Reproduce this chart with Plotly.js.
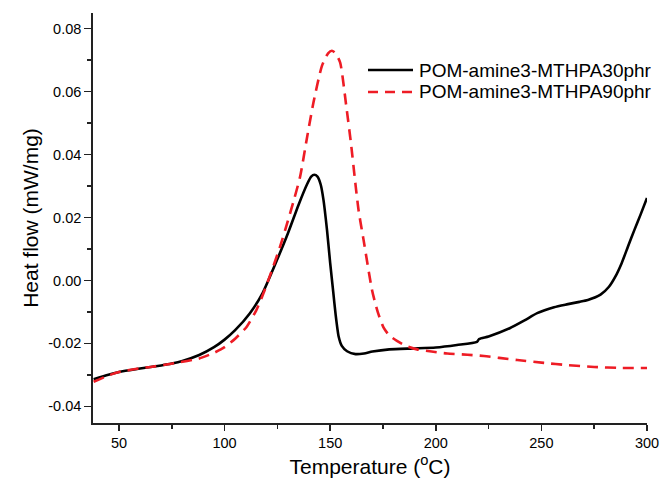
<!DOCTYPE html>
<html>
<head>
<meta charset="utf-8">
<script src="https://cdn.plot.ly/plotly-3.0.1.min.js"></script>
<style>html,body{margin:0;padding:0;background:#fff;}#chart{width:662px;height:488px;}</style>
</head>
<body>
<div id="chart"></div>
<script>
// Series names
var seriesNames = ["POM-amine3-MTHPA30phr", "POM-amine3-MTHPA90phr"];

// POM-amine3-MTHPA30phr (black solid)
var temp30 = [38, 45, 50, 60, 70, 75, 80, 88, 95, 100, 105, 112, 118, 125, 130, 135, 139, 141, 142.5, 144, 145.5, 146.8, 148.5, 150, 151.5, 152.5, 154, 155.5, 158, 162, 166, 170, 178, 190, 200, 210, 219.5, 220.5, 225, 235, 242, 248, 256, 262, 268, 272, 278, 282, 285, 288, 291, 294, 297, 300];
var heat30 = [-0.0314, -0.0300, -0.0291, -0.0280, -0.0270, -0.0264, -0.0256, -0.0237, -0.0212, -0.0188, -0.0158, -0.0104, -0.0040, 0.0068, 0.0150, 0.0240, 0.0305, 0.0330, 0.0336, 0.0330, 0.0305, 0.0257, 0.0160, 0.0055, -0.0040, -0.0104, -0.0178, -0.0208, -0.0225, -0.0234, -0.0232, -0.0226, -0.0219, -0.0216, -0.0213, -0.0205, -0.0195, -0.0186, -0.0178, -0.0152, -0.0127, -0.0104, -0.0085, -0.0076, -0.0068, -0.0062, -0.0045, -0.0020, 0.0012, 0.0055, 0.0108, 0.0160, 0.0210, 0.0262];

// POM-amine3-MTHPA90phr (red dashed)
var temp90 = [38, 45, 50, 60, 65, 77, 88, 95, 100, 105, 110.5, 115, 118.4, 122, 126.3, 130, 133, 135.8, 138.9, 142.1, 146.1, 149, 150.8, 152.5, 154.7, 157.6, 159.8, 161.9, 163.5, 165.8, 169.8, 172.5, 175.3, 178, 181.6, 186, 191.1, 198, 205.4, 215, 222.8, 230, 238.6, 251.2, 262.3, 275, 287.6, 300];
var heat90 = [-0.0322, -0.0302, -0.0291, -0.0279, -0.0275, -0.0262, -0.0248, -0.0230, -0.0212, -0.0185, -0.0147, -0.0095, -0.0041, 0.0025, 0.0108, 0.0190, 0.0260, 0.0331, 0.0449, 0.0566, 0.0682, 0.0722, 0.0730, 0.0722, 0.0693, 0.0555, 0.0438, 0.0310, 0.0220, 0.0129, -0.0030, -0.0100, -0.0150, -0.0175, -0.0192, -0.0208, -0.0219, -0.0226, -0.0232, -0.0236, -0.0240, -0.0246, -0.0253, -0.0262, -0.0269, -0.0275, -0.0278, -0.0278];

// Axis ticks
var xTickVals = [50, 100, 150, 200, 250, 300];
var xTickText = ["50", "100", "150", "200", "250", "300"];
var yTickVals = [-0.04, -0.02, 0.00, 0.02, 0.04, 0.06, 0.08];
var yTickText = ["-0.04", "-0.02", "0.00", "0.02", "0.04", "0.06", "0.08"];

var FONT = "Arial, 'Liberation Sans', sans-serif";
var W = 662, H = 488, ML = 93, MR = 15, MT = 13, MB = 65;
function px2x(px) { return (px - ML) / (W - ML - MR); }
function py2y(py) { return (H - MB - py) / (H - MT - MB); }

var traces = [
  {x: temp30, y: heat30, type: "scatter", mode: "lines", name: seriesNames[0],
   line: {color: "#000000", width: 2.6, shape: "spline", smoothing: 0.6}, showlegend: false},
  {x: temp90, y: heat90, type: "scatter", mode: "lines", name: seriesNames[1],
   line: {color: "#ee1c25", width: 2.6, dash: "11px,7px", shape: "spline", smoothing: 0.6}, showlegend: false}
];

var legendRows = [
  {py: 70, color: "#000000", dash: "solid"},
  {py: 92, color: "#ee1c25", dash: "10px,7px"}
];
var shapes = [], annotations = [];
legendRows.forEach(function (r, i) {
  shapes.push({type: "line", xref: "paper", yref: "paper",
    x0: px2x(368), x1: px2x(413), y0: py2y(r.py), y1: py2y(r.py),
    line: {color: r.color, width: 2.6, dash: r.dash}});
  annotations.push({xref: "paper", yref: "paper", x: px2x(417), y: py2y(r.py),
    xanchor: "left", yanchor: "middle", showarrow: false, text: seriesNames[i],
    font: {family: FONT, size: 19, color: "#000"}});
});

var layout = {
  width: W, height: H,
  margin: {l: ML, r: MR, t: MT, b: MB, pad: 0},
  paper_bgcolor: "#fff", plot_bgcolor: "#fff",
  font: {family: FONT, color: "#000"},
  showlegend: false,
  xaxis: {
    range: [37.7, 300], tickvals: xTickVals, ticktext: xTickText,
    ticks: "outside", ticklen: 6, tickwidth: 1.5, tickcolor: "#222",
    showline: true, linecolor: "#222", linewidth: 1.8, mirror: false,
    showgrid: false, zeroline: false,
    tickfont: {family: FONT, size: 14.5, color: "#000"},
    minor: {dtick: 25, tick0: 0, ticks: "outside", ticklen: 4, tickwidth: 1.5, tickcolor: "#222", showgrid: false},
    title: {text: "Temperature (<sup>o</sup>C)", font: {family: FONT, size: 21, color: "#000"}, standoff: 9}
  },
  yaxis: {
    range: [-0.0453, 0.085], tickvals: yTickVals, ticktext: yTickText,
    ticks: "outside", ticklen: 7, tickwidth: 1.5, tickcolor: "#222",
    showline: true, linecolor: "#222", linewidth: 1.8, mirror: false,
    showgrid: false, zeroline: false,
    tickfont: {family: FONT, size: 14.5, color: "#000"},
    minor: {dtick: 0.01, tick0: 0, ticks: "outside", ticklen: 4, tickwidth: 1.5, tickcolor: "#222", showgrid: false},
    title: {text: "Heat flow (mW/mg)", font: {family: FONT, size: 21, color: "#000"}, standoff: 4}
  },
  shapes: shapes,
  annotations: annotations
};

Plotly.newPlot("chart", traces, layout, {displayModeBar: false, staticPlot: true});
</script>
</body>
</html>
